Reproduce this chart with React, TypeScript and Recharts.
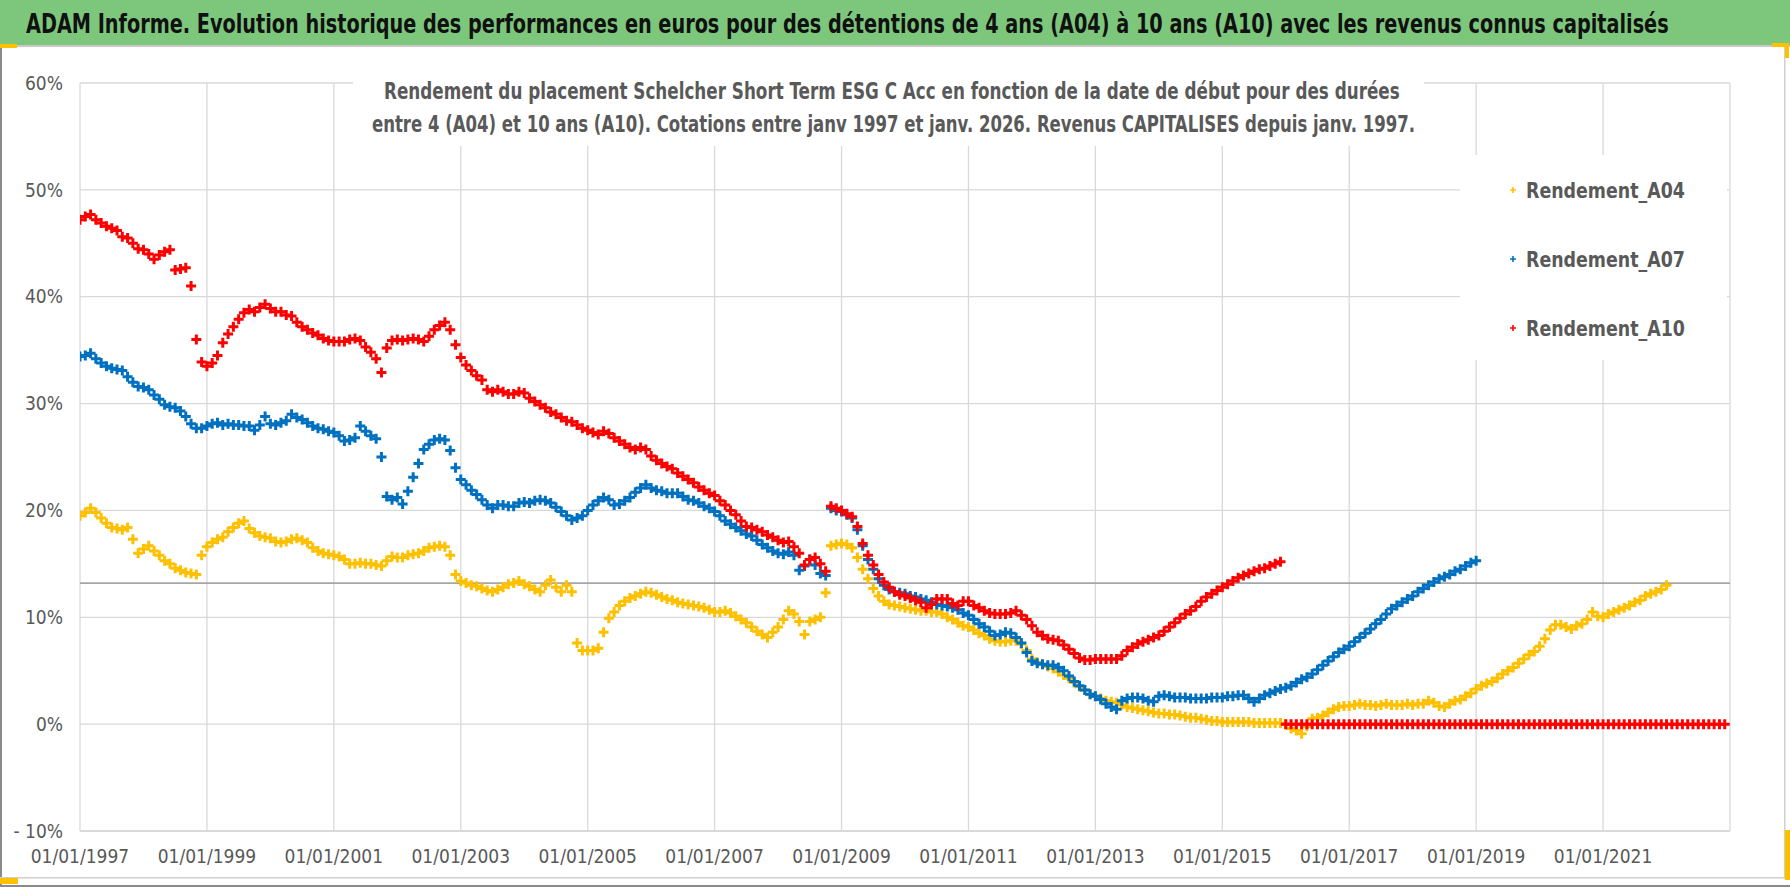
import React, { useLayoutEffect, useRef, useState } from 'react'
import { ScatterChart, Scatter, XAxis, YAxis, CartesianGrid, ReferenceLine } from 'recharts'

// Monthly samples, first value = January 1997
const START_YEAR = 1997

const X_TICKS = [1997, 1999, 2001, 2003, 2005, 2007, 2009, 2011, 2013, 2015, 2017, 2019, 2021]
const Y_TICKS = [-10, 0, 10, 20, 30, 40, 50, 60]
const REF_LEVEL = 13.2

const A04 = [
  19.5, 19.8, 20.2, 19.8, 19.3, 18.8, 18.4, 18.3, 18.2, 18.4, 17.3, 16.0, // 1997
  16.4, 16.7, 16.2, 15.8, 15.3, 15.0, 14.6, 14.4, 14.2, 14.1, 14.0, 15.8, // 1998
  16.6, 17.0, 17.3, 17.5, 18.0, 18.4, 18.8, 19.0, 18.3, 17.9, 17.6, 17.5, // 1999
  17.4, 17.1, 17.0, 17.1, 17.3, 17.4, 17.2, 17.0, 16.5, 16.2, 16.0, 15.9, // 2000
  15.8, 15.7, 15.4, 15.0, 15.0, 15.1, 15.0, 15.0, 14.9, 14.8, 15.3, 15.7, // 2001
  15.6, 15.6, 15.8, 15.9, 16.0, 16.2, 16.5, 16.6, 16.7, 16.6, 15.8, 14.0, // 2002
  13.4, 13.2, 13.0, 12.9, 12.7, 12.5, 12.4, 12.6, 12.8, 13.1, 13.2, 13.4, // 2003
  13.1, 12.9, 12.6, 12.4, 13.0, 13.5, 12.8, 12.4, 13.0, 12.4, 7.6, 6.9, // 2004
  6.9, 6.9, 7.1, 8.6, 9.9, 10.5, 11.1, 11.5, 11.8, 12.0, 12.2, 12.4, // 2005
  12.3, 12.1, 11.9, 11.7, 11.6, 11.4, 11.3, 11.2, 11.1, 11.0, 10.9, 10.7, // 2006
  10.5, 10.5, 10.6, 10.4, 10.1, 9.8, 9.5, 9.1, 8.7, 8.4, 8.1, 8.6, // 2007
  9.1, 9.8, 10.6, 10.3, 9.6, 8.4, 9.6, 9.8, 10.0, 12.3, 16.7, 16.8, // 2008
  16.9, 16.8, 16.5, 15.6, 14.5, 13.6, 12.7, 12.0, 11.5, 11.2, 11.1, 11.0, // 2009
  10.9, 10.8, 10.7, 10.6, 10.6, 10.5, 10.5, 10.3, 10.0, 9.8, 9.5, 9.2, // 2010
  9.1, 8.8, 8.5, 8.3, 8.0, 7.8, 7.7, 7.7, 7.8, 7.8, 7.5, 6.9, // 2011
  6.1, 5.8, 5.6, 5.4, 5.2, 4.9, 4.6, 4.3, 3.9, 3.5, 3.2, 2.8, // 2012
  2.6, 2.4, 2.2, 2.1, 2.0, 1.8, 1.6, 1.5, 1.4, 1.3, 1.2, 1.1, // 2013
  1.0, 1.0, 0.9, 0.9, 0.8, 0.7, 0.6, 0.6, 0.5, 0.4, 0.3, 0.3, // 2014
  0.2, 0.2, 0.2, 0.2, 0.2, 0.2, 0.1, 0.1, 0.1, 0.1, 0.1, 0.1, // 2015
  0.0, -0.4, -0.6, -0.9, -0.2, 0.5, 0.6, 0.8, 1.1, 1.4, 1.6, 1.7, // 2016
  1.7, 1.8, 1.9, 1.8, 1.8, 1.7, 1.8, 1.9, 1.8, 1.8, 1.8, 1.9, // 2017
  1.8, 1.9, 1.9, 2.2, 2.0, 1.7, 1.6, 1.9, 2.2, 2.3, 2.6, 2.9, // 2018
  3.3, 3.6, 3.8, 4.0, 4.3, 4.7, 5.0, 5.3, 5.7, 6.1, 6.5, 6.8, // 2019
  7.3, 8.0, 8.8, 9.3, 9.3, 9.1, 8.9, 9.2, 9.4, 9.8, 10.5, 10.1, // 2020
  10.0, 10.3, 10.5, 10.7, 10.9, 11.1, 11.4, 11.6, 12.0, 12.2, 12.4, 12.6, // 2021
  13.0, // 2022
]

const A07 = [
  34.4, 34.5, 34.7, 34.2, 33.8, 33.5, 33.3, 33.2, 33.1, 32.5, 32.0, 31.6, // 1997
  31.5, 31.3, 30.8, 30.4, 29.9, 29.7, 29.6, 29.3, 28.8, 28.1, 27.7, 27.7, // 1998
  27.9, 28.1, 28.2, 28.0, 28.1, 28.0, 28.0, 27.9, 27.9, 27.5, 28.0, 28.8, // 1999
  28.1, 28.0, 28.2, 28.4, 29.0, 28.7, 28.5, 28.2, 27.9, 27.7, 27.6, 27.4, // 2000
  27.3, 27.0, 26.5, 26.6, 26.8, 27.9, 27.4, 27.0, 26.7, 25.0, 21.3, 21.0, // 2001
  21.2, 20.6, 21.8, 23.1, 24.4, 25.7, 26.2, 26.6, 26.7, 26.6, 25.6, 24.0, // 2002
  22.9, 22.4, 21.9, 21.5, 21.0, 20.5, 20.2, 20.5, 20.5, 20.4, 20.4, 20.7, // 2003
  20.8, 20.7, 20.9, 21.0, 20.9, 20.7, 20.3, 19.9, 19.5, 19.1, 19.3, 19.5, // 2004
  20.0, 20.5, 20.9, 21.2, 21.0, 20.5, 20.6, 20.9, 21.2, 21.7, 22.1, 22.4, // 2005
  22.1, 21.9, 21.8, 21.6, 21.6, 21.6, 21.3, 21.0, 20.9, 20.7, 20.4, 20.2, // 2006
  19.9, 19.5, 19.0, 18.7, 18.4, 18.1, 17.8, 17.6, 17.2, 16.8, 16.5, 16.2, // 2007
  16.0, 15.9, 16.1, 15.8, 14.4, 14.8, 15.4, 14.9, 14.1, 13.9, 20.2, 20.0, // 2008
  19.9, 19.6, 19.3, 18.2, 16.7, 15.4, 14.5, 13.6, 13.0, 12.6, 12.4, 12.3, // 2009
  12.2, 12.0, 11.9, 11.7, 11.6, 11.4, 11.2, 11.1, 11.0, 10.9, 10.7, 10.4, // 2010
  10.2, 9.8, 9.4, 9.1, 8.7, 8.3, 8.4, 8.6, 8.5, 8.1, 7.6, 6.7, // 2011
  5.9, 5.7, 5.6, 5.5, 5.5, 5.3, 5.0, 4.5, 4.0, 3.6, 3.2, 2.8, // 2012
  2.6, 2.3, 1.9, 1.6, 1.4, 2.2, 2.4, 2.5, 2.5, 2.4, 2.2, 2.1, // 2013
  2.6, 2.7, 2.6, 2.5, 2.5, 2.5, 2.4, 2.4, 2.4, 2.4, 2.5, 2.5, // 2014
  2.5, 2.6, 2.6, 2.7, 2.7, 2.4, 2.1, 2.4, 2.7, 2.9, 3.1, 3.3, // 2015
  3.4, 3.6, 3.9, 4.2, 4.4, 4.7, 5.1, 5.5, 5.9, 6.3, 6.7, 7.0, // 2016
  7.3, 7.7, 8.1, 8.5, 8.9, 9.4, 9.8, 10.3, 10.8, 11.1, 11.4, 11.7, // 2017
  12.0, 12.4, 12.7, 13.0, 13.3, 13.6, 13.8, 14.0, 14.3, 14.5, 14.8, 15.1, // 2018
  15.3, // 2019
]

const A10 = [
  47.2, 47.5, 47.7, 47.2, 46.9, 46.6, 46.4, 46.2, 45.6, 45.5, 45.0, 44.5, // 1997
  44.4, 44.0, 43.5, 43.9, 44.2, 44.4, 42.5, 42.6, 42.7, 41.0, 36.0, 33.9, // 1998
  33.5, 33.8, 34.5, 35.7, 36.5, 37.2, 37.9, 38.5, 38.8, 38.6, 39.0, 39.3, // 1999
  38.9, 38.6, 38.6, 38.3, 38.2, 37.6, 37.2, 36.9, 36.6, 36.4, 36.1, 35.9, // 2000
  35.8, 35.8, 35.8, 36.0, 36.1, 35.9, 35.3, 34.8, 34.2, 32.9, 35.2, 35.9, // 2001
  36.0, 35.9, 36.0, 36.1, 36.0, 35.8, 36.3, 36.9, 37.3, 37.6, 36.9, 35.5, // 2002
  34.3, 33.6, 33.1, 32.6, 32.2, 31.3, 31.1, 31.3, 31.1, 30.9, 30.9, 31.1, // 2003
  31.0, 30.5, 30.2, 29.9, 29.6, 29.2, 29.0, 28.7, 28.4, 28.3, 28.0, 27.7, // 2004
  27.5, 27.3, 27.1, 27.4, 27.2, 26.8, 26.5, 26.2, 25.9, 25.7, 25.9, 25.7, // 2005
  25.1, 24.7, 24.4, 24.1, 23.9, 23.5, 23.2, 22.9, 22.6, 22.2, 21.9, 21.6, // 2006
  21.4, 20.9, 20.5, 20.0, 19.6, 19.0, 18.5, 18.4, 18.2, 18.0, 17.7, 17.5, // 2007
  17.2, 17.0, 17.1, 16.6, 16.0, 14.9, 15.4, 15.6, 15.0, 14.3, 20.4, 20.2, // 2008
  20.0, 19.7, 19.4, 18.5, 16.9, 15.8, 14.9, 14.0, 13.3, 12.8, 12.4, 12.1, // 2009
  12.0, 11.8, 11.6, 11.4, 10.9, 11.2, 11.7, 11.7, 11.7, 11.3, 11.1, 11.5, // 2010
  11.5, 11.1, 10.9, 10.6, 10.4, 10.3, 10.3, 10.3, 10.4, 10.6, 10.2, 9.8, // 2011
  9.2, 8.6, 8.3, 8.0, 7.9, 7.8, 7.4, 7.0, 6.6, 6.2, 6.0, 6.0, // 2012
  6.1, 6.1, 6.1, 6.1, 6.1, 6.4, 6.9, 7.2, 7.5, 7.7, 7.9, 8.1, // 2013
  8.3, 8.7, 9.1, 9.5, 9.9, 10.3, 10.6, 11.0, 11.5, 11.9, 12.2, 12.5, // 2014
  12.8, 13.1, 13.4, 13.7, 13.9, 14.1, 14.3, 14.5, 14.6, 14.8, 15.0, 15.2, // 2015
  0, 0, 0, 0, 0, 0, 0, 0, 0, 0, 0, 0, // 2016
  0, 0, 0, 0, 0, 0, 0, 0, 0, 0, 0, 0, // 2017
  0, 0, 0, 0, 0, 0, 0, 0, 0, 0, 0, 0, // 2018
  0, 0, 0, 0, 0, 0, 0, 0, 0, 0, 0, 0, // 2019
  0, 0, 0, 0, 0, 0, 0, 0, 0, 0, 0, 0, // 2020
  0, 0, 0, 0, 0, 0, 0, 0, 0, 0, 0, 0, // 2021
  0, 0, 0, 0, 0, 0, 0, 0, 0, 0, 0, 0, // 2022
]

const SERIES = [
  { key: 'Rendement_A04', values: A04, color: '#FFC000' },
  { key: 'Rendement_A07', values: A07, color: '#0070C0' },
  { key: 'Rendement_A10', values: A10, color: '#FF0000' },
]

const TITLE =
  'ADAM Informe. Evolution historique des performances en euros pour des détentions de 4 ans (A04) à 10 ans (A10) avec les revenus connus capitalisés'
const SUB_1 =
  'Rendement du placement Schelcher Short Term ESG C Acc en fonction de la date de début pour des durées'
const SUB_2 =
  'entre 4 (A04) et 10 ans (A10). Cotations entre janv 1997 et janv. 2026. Revenus CAPITALISES depuis janv. 1997.'

const NARROW = "'Liberation Sans Narrow', 'DejaVu Sans Condensed', 'Roboto Condensed', sans-serif"
const GRID = '#d9d9d9'
const LABEL = '#595959'
const HANDLE = '#FFC000'

const toPoints = (values: number[]) =>
  values.map((v, i) => ({ x: START_YEAR + i / 12, y: v }))

function plusShape(color: string, size = 5, width = 3) {
  return (props: any) => {
    const { cx, cy } = props
    if (cx == null || cy == null) return <g />
    return (
      <path
        d={`M${cx - size},${cy}h${size * 2}M${cx},${cy - size}v${size * 2}`}
        stroke={color}
        strokeWidth={width}
        fill="none"
      />
    )
  }
}

const fmtPct = (v: number) => (v < 0 ? `- ${-v}%` : `${v}%`)

// svg text squeezed horizontally to a given width (Calibri-like narrow look)
function FitText({ x, y, width, size, fill, children }: any) {
  const ref = useRef<SVGTextElement>(null)
  const [k, setK] = useState(1)
  useLayoutEffect(() => {
    if (!ref.current) return
    const w = ref.current.getComputedTextLength()
    if (w > 0) setK(width / w)
  }, [width, children])
  return (
    <text
      ref={ref}
      transform={`translate(${x},${y}) scale(${k},1)`}
      fontFamily={NARROW}
      fontWeight="bold"
      fontSize={size}
      fill={fill}
    >
      {children}
    </text>
  )
}

export default function App() {
  return (
    <div style={{ position: 'relative', width: 1790, height: 887, background: '#fff', overflow: 'hidden' }}>
      <style>{'body{margin:0}'}</style>
      <ScatterChart
        width={1790}
        height={887}
        margin={{ top: 83, right: 60, bottom: 16, left: 0 }}
        style={{ position: 'absolute', left: 0, top: 0 }}
      >
        <CartesianGrid stroke={GRID} strokeWidth={1.3} />
        <XAxis
          type="number"
          dataKey="x"
          domain={[1997, 2023]}
          ticks={X_TICKS}
          interval={0}
          allowDataOverflow
          height={40}
          tickLine={false}
          axisLine={{ stroke: GRID, strokeWidth: 2 }}
          tickMargin={13}
          tickFormatter={(v: number) => `01/01/${v}`}
          tick={{ fill: LABEL, fontSize: 19, fontFamily: NARROW }}
        />
        <YAxis
          type="number"
          dataKey="y"
          domain={[-10, 60]}
          ticks={Y_TICKS}
          interval={0}
          width={80}
          tickLine={false}
          axisLine={false}
          tickMargin={11}
          tickFormatter={fmtPct}
          tick={{ fill: LABEL, fontSize: 19, fontFamily: NARROW }}
        />
        <ReferenceLine y={REF_LEVEL} stroke="#a6a6a6" strokeWidth={1.6} />
        {SERIES.map((s) => (
          <Scatter
            key={s.key}
            name={s.key}
            data={toPoints(s.values)}
            shape={plusShape(s.color)}
            isAnimationActive={false}
          />
        ))}
      </ScatterChart>

      <svg
        width={1790}
        height={887}
        style={{ position: 'absolute', left: 0, top: 0, pointerEvents: 'none' }}
      >
        {/* title bar */}
        <rect x={0} y={0} width={1790} height={45} fill="#7dc77d" />
        <rect x={0} y={45} width={1790} height={2} fill="#c9c9c9" />
        <FitText x={26} y={33} width={1643} size={27} fill="#111">
          {TITLE}
        </FitText>

        {/* frame */}
        <rect x={0} y={47} width={2} height={840} fill="#8a8a8a" />
        <rect x={1784} y={47} width={1.5} height={832} fill="#d0d0d0" />
        <rect x={0} y={877} width={1786} height={1.5} fill="#d0d0d0" />
        <rect x={0} y={885} width={1790} height={2} fill="#8a8a8a" />
        <rect x={0} y={44} width={17} height={4} fill={HANDLE} />
        <rect x={1772} y={43} width={17} height={4} fill={HANDLE} />
        <rect x={1785} y={43} width={4} height={15} fill={HANDLE} />
        <rect x={1785} y={830} width={5} height={50} fill={HANDLE} />
        <rect x={0} y={878} width={18} height={6} fill={HANDLE} />

        {/* subtitle box */}
        <rect x={353} y={56} width={1071} height={90} fill="#fff" />
        <FitText x={384} y={99} width={1016} size={23} fill={LABEL}>
          {SUB_1}
        </FitText>
        <FitText x={372} y={132} width={1044} size={23} fill={LABEL}>
          {SUB_2}
        </FitText>

        {/* legend */}
        <rect x={1460} y={155} width={267} height={205} fill="#fff" />
        {SERIES.map((s, i) => {
          const cy = 190 + i * 69
          return (
            <g key={s.key}>
              <path d={`M${1510},${cy}h6M${1513},${cy - 3}v6`} stroke={s.color} strokeWidth={1.6} />
              <FitText x={1526} y={cy + 8} width={159} size={22} fill={LABEL}>
                {s.key}
              </FitText>
            </g>
          )
        })}
      </svg>
    </div>
  )
}
